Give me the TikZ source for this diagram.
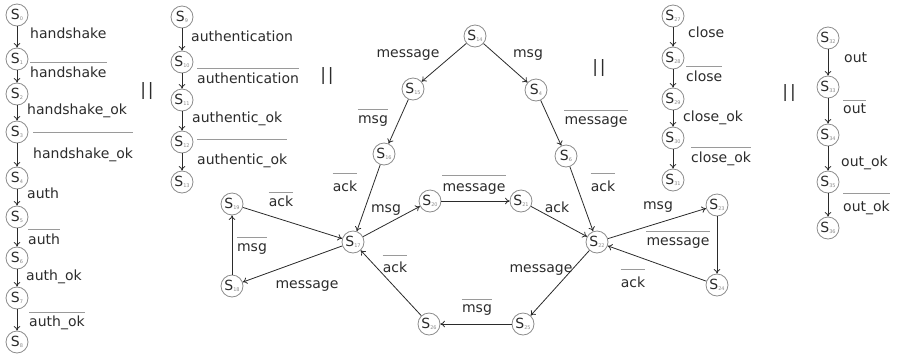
\documentclass[tikz,border=0pt]{standalone}
\usepackage{fontspec}
\setmainfont{DejaVu Sans}
\usepackage{tikz}
\usetikzlibrary{arrows.meta}

\definecolor{ink}{HTML}{2B2B2B}
\definecolor{ring}{HTML}{8C8C8C}
\definecolor{barc}{HTML}{9A9A9A}

% state name: big S, tiny grey index
\newcommand{\sn}[1]{S\raisebox{-0.8pt}{\fontsize{5}{5}\selectfont\color{ring}#1}}
% label with a bar over it: name, anchor, position, gap, text
\newcommand{\barlbl}[5]{%
  \node[lbl,anchor=#2] (#1) at (#3) {#5};
  \draw[bar] ([yshift=#4pt]#1.north west) -- ([yshift=#4pt]#1.north east);}

\begin{document}
\begin{tikzpicture}[x=1pt,y=-1pt,
    st/.style={circle,draw=ring,line width=0.8pt,fill=white,minimum size=22pt,
      inner sep=0pt,text=ink,font=\fontsize{14}{14}\selectfont},
    arr/.style={-{To[length=4.5pt,width=6.5pt]},draw=ink,line width=0.8pt},
    lbl/.style={text=ink,inner sep=0pt,text height=10.5pt,text depth=3pt,
      font=\fontsize{14}{14}\selectfont},
    bar/.style={draw=barc,line width=0.8pt},
    par/.style={text=ink,inner sep=0pt,font=\fontsize{17}{17}\selectfont}]
  \useasboundingbox (0,0) rectangle (902,357);

  % handshake / auth
  \node[st] (s0) at (17,15) {\sn{0}};
  \node[st] (s1) at (17,59) {\sn{1}};
  \node[st] (s2) at (17,94) {\sn{2}};
  \node[st] (s3) at (17,132) {\sn{3}};
  \node[st] (s4) at (17,178) {\sn{4}};
  \node[st] (s5) at (17,217) {\sn{5}};
  \node[st] (s6) at (17,258) {\sn{6}};
  \node[st] (s7) at (17,298) {\sn{7}};
  \node[st] (s8) at (17,342) {\sn{8}};
  \draw[arr] (s0) edge (s1) (s1) edge (s2) (s2) edge (s3) (s3) edge (s4)
    (s4) edge (s5) (s5) edge (s6) (s6) edge (s7) (s7) edge (s8);
  \node[lbl,anchor=west] (l0) at (30,35) {handshake};
  \barlbl{l1}{west}{30,74}{5}{handshake}
  \node[lbl,anchor=west] (l2) at (27,111) {handshake\_ok};
  \barlbl{l3}{west}{33,155}{16}{handshake\_ok}
  \node[lbl,anchor=west] (l4) at (27,195) {auth};
  \barlbl{l5}{west}{28,241}{5}{auth}
  \node[lbl,anchor=west] (l6) at (26,277) {auth\_ok};
  \barlbl{l7}{west}{29,323}{4}{auth\_ok}

  \node[par] (p1) at (147,91) {|\kern2pt|};

  % authentication
  \node[st] (s9) at (182,17) {\sn{9}};
  \node[st] (s10) at (182,62) {\sn{10}};
  \node[st] (s11) at (182,100) {\sn{11}};
  \node[st] (s12) at (182,142) {\sn{12}};
  \node[st] (s13) at (182,182) {\sn{13}};
  \draw[arr] (s9) edge (s10) (s10) edge (s11) (s11) edge (s12) (s12) edge (s13);
  \node[lbl,anchor=west] (l9) at (191,38) {authentication};
  \barlbl{l10}{west}{197,80}{5}{authentication}
  \node[lbl,anchor=west] (l11) at (192,119) {authentic\_ok};
  \barlbl{l12}{west}{197,161}{15}{authentic\_ok}

  \node[par] (p2) at (327,76) {|\kern2pt|};

  % message exchange
  \node[st] (s14) at (475,36) {\sn{14}};
  \node[st] (s15) at (413,89) {\sn{15}};
  \node[st] (s4r) at (536,90) {\sn{4}};
  \node[st] (s16) at (384,154) {\sn{16}};
  \node[st] (s6r) at (566,156) {\sn{6}};
  \node[st] (s17) at (353,242) {\sn{17}};
  \node[st] (s18) at (232,286) {\sn{18}};
  \node[st] (s19) at (232,204) {\sn{19}};
  \node[st] (s20) at (430,201) {\sn{20}};
  \node[st] (s21) at (521,201) {\sn{21}};
  \node[st] (s22) at (597,242) {\sn{22}};
  \node[st] (s23) at (717,205) {\sn{23}};
  \node[st] (s24) at (717,285) {\sn{24}};
  \node[st] (s25) at (523,324) {\sn{25}};
  \node[st] (s26) at (429,324) {\sn{26}};
  \draw[arr] (s14) edge (s15) (s14) edge (s4r) (s15) edge (s16) (s4r) edge (s6r)
    (s16) edge (s17) (s6r) edge (s22) (s17) edge (s20) (s20) edge (s21)
    (s21) edge (s22) (s19) edge (s17) (s18) edge (s19) (s17) edge (s18)
    (s26) edge (s17) (s22) edge (s23) (s23) edge (s24) (s24) edge (s22)
    (s22) edge (s25) (s25) edge (s26);
  \node[lbl] (m1) at (408,54) {message};
  \node[lbl] (m2) at (528,54) {msg};
  \barlbl{m3}{center}{373,120}{4}{msg}
  \barlbl{m4}{center}{596,121}{4}{message}
  \barlbl{m5}{center}{345,188}{8}{ack}
  \barlbl{m6}{center}{603,188}{8}{ack}
  \barlbl{m7}{center}{474,188}{6}{message}
  \node[lbl] (m8) at (386,209) {msg};
  \node[lbl] (m9) at (557,209) {ack};
  \barlbl{m10}{center}{281,203}{4}{ack}
  \barlbl{m11}{center}{252,248}{4}{msg}
  \node[lbl] (m12) at (307,285) {message};
  \barlbl{m13}{center}{395,269}{7}{ack}
  \node[lbl] (m14) at (658,206) {msg};
  \barlbl{m15}{center}{678,242}{4}{message}
  \barlbl{m16}{center}{633,284}{8}{ack}
  \node[lbl] (m17) at (541,269) {message};
  \barlbl{m18}{center}{477,309}{3}{msg}

  \node[par] (p3) at (599,68) {|\kern2pt|};

  % close
  \node[st] (s27) at (673,16) {\sn{27}};
  \node[st] (s28) at (673,58) {\sn{28}};
  \node[st] (s29) at (673,99) {\sn{29}};
  \node[st] (s30) at (673,138) {\sn{30}};
  \node[st] (s31) at (673,180) {\sn{31}};
  \draw[arr] (s27) edge (s28) (s28) edge (s29) (s29) edge (s30) (s30) edge (s31);
  \node[lbl,anchor=west] (l27) at (688,34) {close};
  \barlbl{l28}{west}{686,78}{5}{close}
  \node[lbl,anchor=west] (l29) at (683,118) {close\_ok};
  \barlbl{l30}{west}{691,159}{5}{close\_ok}

  \node[par] (p4) at (789,93) {|\kern2pt|};

  % out
  \node[st] (s32) at (828,38) {\sn{32}};
  \node[st] (s33) at (828,87) {\sn{33}};
  \node[st] (s34) at (828,135) {\sn{34}};
  \node[st] (s35) at (828,182) {\sn{35}};
  \node[st] (s36) at (828,228) {\sn{36}};
  \draw[arr] (s32) edge (s33) (s33) edge (s34) (s34) edge (s35) (s35) edge (s36);
  \node[lbl,anchor=west] (l32) at (844,59) {out};
  \barlbl{l33}{west}{843,110}{3}{out}
  \node[lbl,anchor=west] (l34) at (841,163) {out\_ok};
  \barlbl{l35}{west}{843,208}{8}{out\_ok}
\end{tikzpicture}
\end{document}
